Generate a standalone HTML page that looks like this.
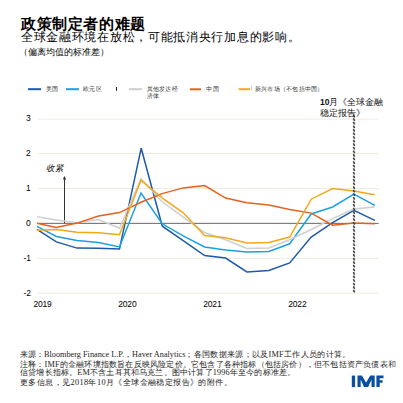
<!DOCTYPE html>
<html><head><meta charset="utf-8">
<style>
html,body{margin:0;padding:0;background:#fff;width:403px;height:403px;overflow:hidden}
body{position:relative;font-family:"Liberation Sans",sans-serif;color:#000}
.a{position:absolute;white-space:nowrap;line-height:1}
.t1{left:21px;top:15.5px;font-size:15px;letter-spacing:0.6px;font-weight:bold}
.t2{left:21px;top:31px;font-size:12px;letter-spacing:0.7px}
.t3{left:19px;top:47.5px;font-size:8.5px;font-weight:500}
.lg{font-size:6px;letter-spacing:0.25px;color:#333;font-weight:500}
.fn{font-family:"Liberation Serif",serif;font-size:8.25px;color:#222}
</style></head><body>
<div class="a t1">政策制定者的难题</div>
<div class="a t2">全球金融环境在放松，可能抵消央行加息的影响。</div>
<div class="a t3">（偏离均值的标准差）</div>

<svg class="a" style="left:0;top:0" width="403" height="403" viewBox="0 0 403 403">
 <g stroke="#1f5aa6" stroke-width="2"><line x1="28" y1="89.2" x2="41" y2="89.2"/></g>
 <g stroke="#1ba0e2" stroke-width="2"><line x1="66" y1="89.2" x2="79" y2="89.2"/></g>
 <rect x="116" y="87" width="1" height="3.8" fill="#222"/>
 <g stroke="#cfcfcf" stroke-width="2"><line x1="129" y1="89.2" x2="142" y2="89.2"/></g>
 <g stroke="#e8601c" stroke-width="2"><line x1="190" y1="89.3" x2="201" y2="89.3"/></g>
 <g stroke="#f0a81c" stroke-width="2"><line x1="238.7" y1="89.2" x2="250" y2="89.2"/></g>
 <rect x="251" y="85.2" width="0.8" height="5.5" fill="#ccc"/>

 <g stroke="#eeebdf" stroke-width="1">
  <line x1="38" y1="119.1" x2="378.8" y2="119.1"/>
  <line x1="38" y1="153.5" x2="378.8" y2="153.5"/>
  <line x1="38" y1="188.4" x2="378.8" y2="188.4"/>
  <line x1="38" y1="258.3" x2="378.8" y2="258.3"/>
  <line x1="38" y1="293.1" x2="378.8" y2="293.1"/>
 </g>
 <line x1="37" y1="223.35" x2="378.7" y2="223.35" stroke="#666" stroke-width="1"/>
 <line x1="64.5" y1="223.3" x2="64.5" y2="179" stroke="#333" stroke-width="1"/>
 <polygon points="64.5,176 62.8,179.6 66.2,179.6" fill="#333"/>

 <g fill="none" stroke-width="1.5" stroke-linejoin="miter">
 <polyline stroke="#1f5aa6" points="37,229.4 56.4,241.9 77,248.1 98.5,248.3 119.5,249 141.2,148.2 162.3,226.2 183.2,240.7 204.6,255.5 225.6,258 246.9,271.9 268.8,270.5 289.7,262.9 311.2,237.1 332.6,222.6 353.9,210.4 374.8,220.4"/>
 <polyline stroke="#1ba0e2" points="37,226.4 56.4,236.5 77,240.4 98.5,242.5 119.5,247 141,193 162.2,223.8 183.2,235.8 204.6,247 225.6,250 246.9,252 268.8,251.4 289.7,243.8 311.2,214 332.6,207 353.9,194 374.8,205.3"/>
 <polyline stroke="#cfcfcf" points="37,216.7 56.4,219.9 77,222.8 98.5,219.5 119.5,228.3 141,178.5 162.1,201.8 183.2,217.1 204.6,232.5 225.6,239.7 246.9,248.4 268.8,247.9 289.7,239.7 311.2,229.5 332.6,218.6 353.9,209 374.8,207"/>
 <polyline stroke="#e8601c" points="37,223.2 56.4,227.4 77,223.1 98.5,216.1 119.5,212.6 141,202.3 162.1,193.6 183.2,187.9 204.6,185.5 225.6,198.1 246.9,202.8 268.8,205 289.7,209.6 311.2,213.1 332.6,225.2 353.9,223 374.8,223.8"/>
 <polyline stroke="#f0a81c" points="37,230.3 56.4,229.5 77,232.2 98.5,232.7 119.5,234.7 141,180.3 162.1,197.8 183.2,212.8 204.6,235.6 225.6,237.8 246.9,243 268.8,242.4 289.7,237 311.2,199.2 332.6,188.5 353.9,191 374.8,194.8"/>
 </g>
 <path d="M353.35 114.80L354.65 117.30M353.35 118.38L354.65 120.88M353.35 121.95L354.65 124.45M353.35 125.53L354.65 128.03M353.35 129.10L354.65 131.60M353.35 132.67L354.65 135.17M353.35 136.25L354.65 138.75M353.35 139.82L354.65 142.32M353.35 143.40L354.65 145.90M353.35 146.97L354.65 149.47M353.35 150.55L354.65 153.05M353.35 154.12L354.65 156.62M353.35 157.70L354.65 160.20M353.35 161.27L354.65 163.77M353.35 164.85L354.65 167.35M353.35 168.42L354.65 170.92M353.35 172.00L354.65 174.50M353.35 175.57L354.65 178.07M353.35 179.15L354.65 181.65M353.35 182.72L354.65 185.22M353.35 186.30L354.65 188.80M353.35 189.87L354.65 192.37M353.35 193.45L354.65 195.95M353.35 197.02L354.65 199.52M353.35 200.60L354.65 203.10M353.35 204.17L354.65 206.67M353.35 207.75L354.65 210.25M353.35 211.32L354.65 213.82M353.35 214.90L354.65 217.40M353.35 218.47L354.65 220.97M353.35 222.05L354.65 224.55M353.35 225.62L354.65 228.12M353.35 229.20L354.65 231.70M353.35 232.77L354.65 235.27M353.35 236.35L354.65 238.85M353.35 239.92L354.65 242.42M353.35 243.50L354.65 246.00M353.35 247.07L354.65 249.57M353.35 250.65L354.65 253.15M353.35 254.22L354.65 256.72M353.35 257.80L354.65 260.30M353.35 261.37L354.65 263.87M353.35 264.95L354.65 267.45M353.35 268.52L354.65 271.02M353.35 272.10L354.65 274.60M353.35 275.67L354.65 278.17M353.35 279.25L354.65 281.75M353.35 282.82L354.65 285.32M353.35 286.40L354.65 288.90M353.35 289.97L354.65 292.47" stroke="#404040" stroke-width="1.6" fill="none"/>

 <g fill="#0b50a0">
  <rect x="351.8" y="375.6" width="3.3" height="11.5"/>
  <polygon points="357.5,387.1 357.5,375.6 361.9,375.6 366.1,382.6 370.3,375.6 374.7,375.6 374.7,387.1 371.5,387.1 371.5,379.8 368.2,387.1 364.0,387.1 360.7,379.8 360.7,387.1"/>
  <polygon points="376.4,387.1 376.4,375.6 383.5,375.6 383.5,378.3 379.7,378.3 379.7,380.3 382.6,380.3 382.6,382.8 379.7,382.8 379.7,387.1"/>
 </g>
</svg>

<div class="a lg" style="left:46px;top:86px">美国</div>
<div class="a lg" style="left:83px;top:86px">欧元区</div>
<div class="a lg" style="left:146.6px;top:86px;line-height:6.5px">其他发达经<br>济体</div>
<div class="a lg" style="left:206.4px;top:86px">中国</div>
<div class="a lg" style="left:254.8px;top:86px">新兴市场（不包括中国）</div>

<div class="a" style="left:320px;top:97px;font-size:8.5px;font-weight:500;line-height:10.5px;color:#111"><b>10</b>月《全球金融<br>稳定报告》</div>

<div class="a" style="left:26px;top:114.4px;font-size:8.5px;letter-spacing:-0.2px">3</div>
<div class="a" style="left:26px;top:149.4px;font-size:8.5px;letter-spacing:-0.2px">2</div>
<div class="a" style="left:26px;top:184.4px;font-size:8.5px;letter-spacing:-0.2px">1</div>
<div class="a" style="left:26px;top:219.4px;font-size:8.5px;letter-spacing:-0.2px">0</div>
<div class="a" style="left:23.5px;top:254.4px;font-size:8.5px;letter-spacing:-0.2px">-1</div>
<div class="a" style="left:23.5px;top:289.4px;font-size:8.5px;letter-spacing:-0.2px">-2</div>
<div class="a" style="left:46px;top:164px;font-size:8.5px;font-style:italic">收紧</div>

<div class="a" style="left:33.4px;top:300px;font-size:8.5px;letter-spacing:-0.2px">2019</div>
<div class="a" style="left:118.3px;top:300px;font-size:8.5px;letter-spacing:-0.2px">2020</div>
<div class="a" style="left:203.3px;top:300px;font-size:8.5px;letter-spacing:-0.2px">2021</div>
<div class="a" style="left:288.3px;top:300px;font-size:8.5px;letter-spacing:-0.2px">2022</div>

<div class="a fn" style="top:350.5px;left:20px">来源：Bloomberg Finance L.P.，Haver Analytics<span style="letter-spacing:0.3px">；各国数据来源；以及IMF工作人员的计算。</span></div>
<div class="a fn" style="top:360.7px;left:20px;letter-spacing:0.2px">注释：IMF的金融环境指数旨在反映风险定价。它包含了各种指标（包括房价），但不包括资产负债表和</div>
<div class="a fn" style="top:369px;left:20px;letter-spacing:0.18px">信贷增长指标。EM不含土耳其和乌克兰。图中计算了1996年至今的标准差。</div>
<div class="a fn" style="top:379px;left:20px;letter-spacing:0.4px">更多信息，见2018年10月《全球金融稳定报告》的附件。</div>
</body></html>
